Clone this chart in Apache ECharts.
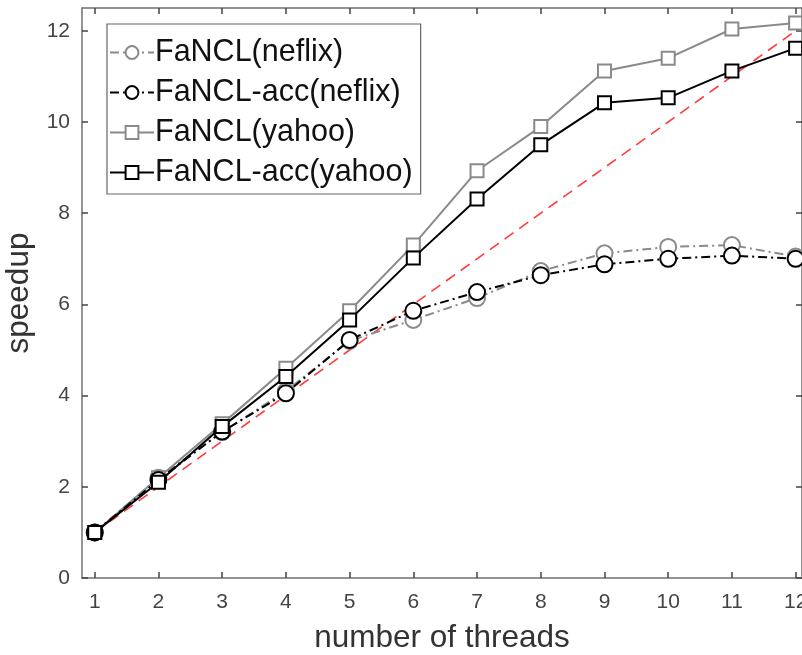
<!DOCTYPE html>
<html><head><meta charset="utf-8">
<script src="https://cdn.jsdelivr.net/npm/echarts@6/dist/echarts.min.js"></script>
<style>html,body{margin:0;padding:0;background:#fff}#c{width:802px;height:655px}</style>
</head><body><div id="c"></div>
<script>
const threads = [1,2,3,4,5,6,7,8,9,10,11,12];
const ideal = [1,2,3,4,5,6,7,8,9,10,11,12];
const fanclNetflix = [1, 2.2, 3.2, 4.1, 5.2, 5.66, 6.14, 6.73, 7.12, 7.26, 7.3, 7.05];
const accNetflix = [1, 2.15, 3.21, 4.05, 5.22, 5.86, 6.27, 6.64, 6.88, 7.0, 7.07, 7.0];
const fanclYahoo = [1, 2.2, 3.38, 4.6, 5.86, 7.3, 8.93, 9.9, 11.12, 11.4, 12.04, 12.17];
const accYahoo = [1, 2.1, 3.32, 4.42, 5.66, 7.02, 8.31, 9.5, 10.42, 10.53, 11.12, 11.62];
const xTicks = [1,2,3,4,5,6,7,8,9,10,11,12];
const yTicks = [0,2,4,6,8,10,12];
const names = ['FaNCL(neflix)','FaNCL-acc(neflix)','FaNCL(yahoo)','FaNCL-acc(yahoo)'];

const pairs = arr => threads.map((t,i)=>[t,arr[i]]);
const FONT = 'Liberation Sans';
const axCol = '#707070';
const gray = '#8a8a8a';
const dashDot = [9,4,2,4];

const chart = echarts.init(document.getElementById('c'));
chart.setOption({
  animation:false,
  backgroundColor:'#fff',
  grid:{left:82, top:8, right:0, bottom:77, containLabel:false, outerBoundsMode:'none'},
  xAxis:[{
    type:'value', min:0.8, max:12.1, position:'bottom',
    name:'number of threads', nameLocation:'middle', nameGap:44,
    nameTextStyle:{fontFamily:FONT, fontSize:31.5, color:'#333'},
    axisLine:{show:true, lineStyle:{color:axCol, width:1.5}},
    axisTick:{show:true, inside:true, length:6, customValues:xTicks, lineStyle:{color:'#444', width:1.5}},
    axisLabel:{show:true, customValues:xTicks, margin:14, fontFamily:FONT, fontSize:21, color:'#444'},
    splitLine:{show:false}
  },{
    type:'value', min:0.8, max:12.1, position:'top',
    axisLine:{show:true, onZero:false, lineStyle:{color:axCol, width:1.5}},
    axisTick:{show:true, inside:true, length:6, customValues:xTicks, lineStyle:{color:'#444', width:1.5}},
    axisLabel:{show:false}, splitLine:{show:false}
  }],
  yAxis:[{
    type:'value', min:0, max:12.5, position:'left',
    name:'speedup', nameLocation:'middle', nameGap:33,
    nameTextStyle:{fontFamily:FONT, fontSize:31.5, color:'#333'},
    axisLine:{show:true, lineStyle:{color:axCol, width:1.5}},
    axisTick:{show:true, inside:true, length:6, customValues:yTicks, lineStyle:{color:'#444', width:1.5}},
    axisLabel:{show:true, customValues:yTicks, margin:12, fontFamily:FONT, fontSize:21, color:'#444'},
    splitLine:{show:false}
  },{
    type:'value', min:0, max:12.5, position:'right',
    axisLine:{show:true, onZero:false, lineStyle:{color:axCol, width:1.5}},
    axisTick:{show:true, inside:true, length:6, customValues:yTicks, lineStyle:{color:'#444', width:1.5}},
    axisLabel:{show:false}, splitLine:{show:false}
  }],
  legend:{
    data:names, orient:'vertical', left:107, top:24,
    backgroundColor:'#fff', borderColor:'#666', borderWidth:1.2,
    padding:[13,8,6,2], itemWidth:44, itemHeight:16, itemGap:9,
    textStyle:{fontFamily:FONT, fontSize:30.5, color:'#111', padding:[0,0,0,-4]}
  },
  series:[
    {name:'ideal', type:'line', data:pairs(ideal), showSymbol:false, symbol:'none',
     lineStyle:{color:'#ff3b3b', width:1.6, type:[11,7]}, z:1, silent:true},
    {name:names[0], type:'line', data:pairs(fanclNetflix), symbol:'emptyCircle', symbolSize:16,
     itemStyle:{color:gray, borderColor:gray, borderWidth:2},
     lineStyle:{color:gray, width:2, type:dashDot}, z:2},
    {name:names[1], type:'line', data:pairs(accNetflix), symbol:'emptyCircle', symbolSize:16,
     itemStyle:{color:'#000', borderColor:'#000', borderWidth:2.2},
     lineStyle:{color:'#000', width:2, type:dashDot}, z:3},
    {name:names[2], type:'line', data:pairs(fanclYahoo), symbol:'emptyRect', symbolSize:13,
     itemStyle:{color:gray, borderColor:gray, borderWidth:2},
     lineStyle:{color:gray, width:2}, z:2},
    {name:names[3], type:'line', data:pairs(accYahoo), symbol:'emptyRect', symbolSize:13,
     itemStyle:{color:'#000', borderColor:'#000', borderWidth:2},
     lineStyle:{color:'#000', width:2}, z:3}
  ]
});
</script></body></html>
